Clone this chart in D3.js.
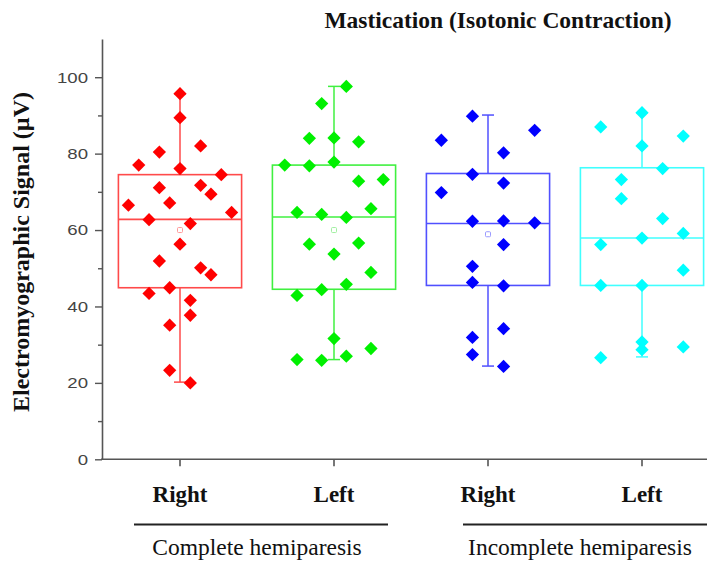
<!DOCTYPE html>
<html><head><meta charset="utf-8">
<script src="https://cdn.jsdelivr.net/npm/d3@7"></script>
<style>html,body{margin:0;padding:0;background:#fff;overflow:hidden}</style>
</head><body><svg id="c" width="707" height="562"></svg>
<script>
// ---- data ----
const title = "Mastication (Isotonic Contraction)";
const yLabel = "Electromyographic Signal (µV)";
const categories = ["Right", "Left", "Right", "Left"];
const groupLabels = ["Complete hemiparesis", "Incomplete hemiparesis"];
const yTicks = [0, 20, 40, 60, 80, 100];
const yMinorTicks = [10, 30, 50, 70, 90];

const q1 = [44.9, 44.5, 45.5, 45.5];
const medians = [62.8, 63.4, 61.7, 57.9];
const q3 = [74.5, 77.0, 74.8, 76.3];
const whiskerLow = [20.2, 26.1, 24.4, 26.8];
const whiskerHigh = [95.7, 97.6, 90.1, 90.7];
const means = [60.0, 60.0, 58.9, 58.0];

const completeRight = [95.7, 89.4, 82.0, 80.4, 77.0, 76.1, 74.5, 71.1, 71.7, 69.4, 66.5, 67.1, 64.6, 62.7, 61.7, 56.3, 51.9, 50.1, 48.3, 44.9, 43.4, 41.6, 37.7, 35.1, 23.3, 20.0];
const completeRightSlot = [0, 0, 2, -2, -4, 0, 4, -2, 2, 3, -5, -1, 5, -3, 1, 0, -2, 2, 3, -1, -3, 1, 1, -1, -1, 1];
const completeLeft = [97.6, 93.1, 84.0, 84.1, 83.1, 77.0, 76.8, 77.8, 72.8, 73.2, 64.6, 64.1, 63.3, 65.6, 56.3, 56.6, 53.7, 48.9, 45.8, 44.4, 42.9, 31.6, 29.0, 27.0, 26.1, 25.9];
const completeLeftSlot = [1, -1, -2, 0, 2, -4, -2, 0, 2, 4, -3, -1, 1, 3, -2, 2, 0, 3, 1, -1, -3, 0, 3, 1, -3, -1];
const incompleteRight = [89.8, 83.5, 86.1, 80.2, 74.6, 72.3, 69.8, 62.3, 62.4, 61.9, 56.2, 50.5, 46.3, 45.4, 34.2, 31.9, 27.4, 24.3];
const incompleteRightSlot = [-1, -3, 3, 1, -1, 1, -3, -1, 1, 3, 1, -1, -1, 1, 1, -1, -1, 1];
const incompleteLeft = [90.7, 87.0, 84.6, 82.0, 76.1, 73.2, 68.2, 63.0, 59.1, 57.9, 56.2, 49.5, 45.5, 45.5, 30.7, 28.7, 29.4, 26.6];
const incompleteLeftSlot = [0, -2, 2, 0, 1, -1, -1, 1, 2, 0, -2, 2, -2, 0, 0, 0, 2, -2];

const seriesValues = [completeRight, completeLeft, incompleteRight, incompleteLeft];
const seriesSlots = [completeRightSlot, completeLeftSlot, incompleteRightSlot, incompleteLeftSlot];
const jitterStep = [0.067, 0.080, 0.101, 0.134]; // fraction of band step per slot

const pointColors = ["#ff0000", "#00f000", "#0000ff", "#00ffff"];
const boxColors = ["#ff4a4a", "#40f040", "#5050ff", "#40ffff"];
const meanColors = ["#ff9a9a", "#a0f0a0", "#9a9aff", "#a0ffff"];

// ---- drawing ----
const svg = d3.select("#c");
const axisLeftX = 102, axisBottomY = 459.3, axisTopY = 39;
const y = d3.scaleLinear().domain([0, 110]).range([axisBottomY, axisTopY]);
const x = d3.scaleBand().domain(d3.range(categories.length)).range([103, 719]).paddingInner(0).paddingOuter(0);
const boxW = x.bandwidth() * 0.8;
const cx = i => x(i) + x.bandwidth() / 2;
const serif = "Liberation Serif, Times New Roman, serif";

// y axis
const yAxis = svg.append("g").attr("transform", `translate(${axisLeftX},0)`)
  .call(d3.axisLeft(y).tickValues(yTicks).tickSize(7).tickPadding(7).tickSizeOuter(0));
yAxis.select(".domain").attr("stroke", "#555").attr("stroke-width", 1.6);
yAxis.selectAll(".tick line").attr("stroke", "#555").attr("stroke-width", 1.4);
yAxis.selectAll(".tick text").attr("font-family", "Liberation Sans, Arial, sans-serif")
  .attr("font-size", 15).attr("fill", "#444")
  .each(function () {
    const w = this.getComputedTextLength();
    d3.select(this).attr("textLength", w * 1.24).attr("lengthAdjust", "spacingAndGlyphs");
  });
const yMinor = svg.append("g").attr("transform", `translate(${axisLeftX},0)`)
  .call(d3.axisLeft(y).tickValues(yMinorTicks).tickSize(4).tickFormat(""));
yMinor.select(".domain").remove();
yMinor.selectAll(".tick line").attr("stroke", "#555").attr("stroke-width", 1.4);

// x axis
const xAxis = svg.append("g").attr("transform", `translate(0,${axisBottomY})`)
  .call(d3.axisBottom(x).tickSize(7).tickFormat(i => categories[i]).tickPadding(19).tickSizeOuter(0));
xAxis.select(".domain").remove();
xAxis.selectAll(".tick line").attr("stroke", "#555").attr("stroke-width", 1.6);
xAxis.selectAll(".tick text").attr("font-family", serif)
  .attr("font-weight", "bold").attr("font-size", 23).attr("fill", "#111");
svg.append("line").attr("x1", axisLeftX - 1).attr("x2", 707).attr("y1", axisBottomY).attr("y2", axisBottomY)
  .attr("stroke", "#555").attr("stroke-width", 1.6);

// group brackets and labels
const groupSpans = [[cx(0) - 46, cx(1) + 54], [cx(2) - 25, 720]];
groupLabels.forEach((g, k) => {
  svg.append("line").attr("x1", groupSpans[k][0]).attr("x2", groupSpans[k][1])
    .attr("y1", 524.5).attr("y2", 524.5).attr("stroke", "#222").attr("stroke-width", 1.8);
  const mid = k === 0 ? (cx(0) + cx(1)) / 2 : (cx(2) + cx(3)) / 2 + 15;
  svg.append("text").attr("x", mid).attr("y", 555).attr("text-anchor", "middle")
    .attr("font-family", serif).attr("font-size", 23.5)
    .attr("fill", "#111").text(g);
});

// boxes
categories.forEach((c, i) => {
  const g = svg.append("g");
  const col = boxColors[i];
  g.append("line").attr("x1", cx(i)).attr("x2", cx(i)).attr("y1", y(whiskerHigh[i])).attr("y2", y(q3[i]))
    .attr("stroke", col).attr("stroke-width", 1.5);
  g.append("line").attr("x1", cx(i)).attr("x2", cx(i)).attr("y1", y(q1[i])).attr("y2", y(whiskerLow[i]))
    .attr("stroke", col).attr("stroke-width", 1.5);
  [whiskerHigh[i], whiskerLow[i]].forEach(v => {
    g.append("line").attr("x1", cx(i) - 6).attr("x2", cx(i) + 6).attr("y1", y(v)).attr("y2", y(v))
      .attr("stroke", col).attr("stroke-width", 1.5);
  });
  g.append("rect").attr("x", cx(i) - boxW / 2).attr("width", boxW)
    .attr("y", y(q3[i])).attr("height", y(q1[i]) - y(q3[i]))
    .attr("fill", "none").attr("stroke", col).attr("stroke-width", 1.6);
  g.append("line").attr("x1", cx(i) - boxW / 2).attr("x2", cx(i) + boxW / 2)
    .attr("y1", y(medians[i])).attr("y2", y(medians[i])).attr("stroke", col).attr("stroke-width", 1.6);
  g.append("rect").attr("x", cx(i) - 2.5).attr("y", y(means[i]) - 2.5).attr("width", 5).attr("height", 5)
    .attr("rx", 1).attr("fill", "none").attr("stroke", meanColors[i]).attr("stroke-width", 1);
  // points
  const diamond = d3.symbol().type(d3.symbolSquare).size(88);
  g.selectAll("path.pt").data(seriesValues[i].map((v, k) => ({ v, s: seriesSlots[i][k] })))
    .join("path").attr("class", "pt")
    .attr("d", diamond)
    .attr("transform", d => `translate(${cx(i) + d.s * jitterStep[i] * x.step()},${y(d.v)}) rotate(45)`)
    .attr("fill", pointColors[i]);
});

// title
svg.append("text").attr("x", 498).attr("y", 28).attr("text-anchor", "middle")
  .attr("font-family", serif).attr("font-weight", "bold")
  .attr("font-size", 23.5).attr("fill", "#111").text(title);

// y label
svg.append("text").attr("transform", `translate(29,252) rotate(-90)`).attr("text-anchor", "middle")
  .attr("font-family", serif).attr("font-weight", "bold")
  .attr("font-size", 24).attr("fill", "#111").text(yLabel);
</script></body></html>
